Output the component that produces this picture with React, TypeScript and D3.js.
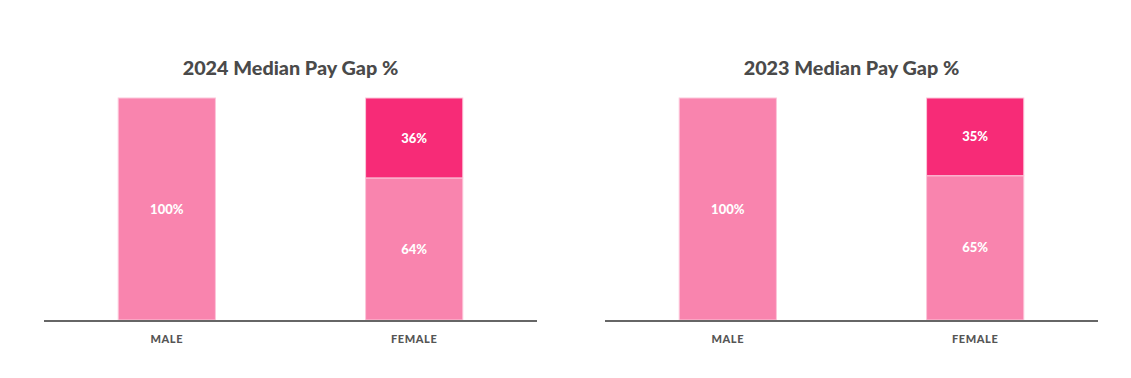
import React from "react";
import * as d3 from "d3";

const categories = ["MALE", "FEMALE"];
const titles = ["2024 Median Pay Gap %", "2023 Median Pay Gap %"];
const paid2024 = [100, 64];
const gap2024 = [0, 36];
const paid2023 = [100, 65];
const gap2023 = [0, 35];

const panels = [
  { title: titles[0], paid: paid2024, gap: gap2024, x0: 44, x1: 537 },
  { title: titles[1], paid: paid2023, gap: gap2023, x0: 605, x1: 1098 },
];

const LIGHT = "#f984ae";
const DARK = "#f72b77";
const FONT = "Lato, 'Open Sans', sans-serif";

function Panel({ p }: { p: (typeof panels)[number] }) {
  const x = d3.scaleBand<string>().domain(categories).range([p.x0, p.x1]).paddingInner(0.607).paddingOuter(0.3);
  const y = d3.scaleLinear().domain([0, 100]).range([320, 98]);
  const bw = x.bandwidth();
  return (
    <g>
      <text x={(p.x0 + p.x1) / 2} y={75} textAnchor="middle" fontFamily={FONT} fontWeight={900} fontSize={19.8} fill="#4a4a4a">
        {p.title}
      </text>
      {categories.map((c, i) => {
        const bx = x(c)!;
        const paidTop = y(p.paid[i]);
        const gapTop = y(p.paid[i] + p.gap[i]);
        return (
          <g key={c}>
            <rect x={bx} y={paidTop} width={bw} height={y(0) - paidTop} fill={LIGHT} stroke="#fcc6da" strokeWidth={1} />
            <text x={bx + bw / 2} y={(paidTop + y(0)) / 2} dy="0.35em" textAnchor="middle" fontFamily={FONT} fontWeight={900} fontSize={13} fill="#fff">
              {p.paid[i]}%
            </text>
            {p.gap[i] > 0 && (
              <g>
                <rect x={bx} y={gapTop} width={bw} height={paidTop - gapTop} fill={DARK} stroke="#fcc6da" strokeWidth={1} />
                <text x={bx + bw / 2} y={(gapTop + paidTop) / 2} dy="0.35em" textAnchor="middle" fontFamily={FONT} fontWeight={900} fontSize={13} fill="#fff">
                  {p.gap[i]}%
                </text>
              </g>
            )}
            <text x={bx + bw / 2} y={339} dy="0.35em" textAnchor="middle" fontFamily={FONT} fontWeight={900} fontSize={11} fill="#555" letterSpacing={0.6}>
              {c}
            </text>
          </g>
        );
      })}
      <line x1={p.x0} x2={p.x1} y1={321} y2={321} stroke="#666" strokeWidth={2} />
    </g>
  );
}

export default function App() {
  return (
    <svg width={1131} height={378} style={{ position: "absolute", left: 0, top: 0, background: "#fff" }}>
      {panels.map((p) => (
        <Panel key={p.title} p={p} />
      ))}
    </svg>
  );
}
